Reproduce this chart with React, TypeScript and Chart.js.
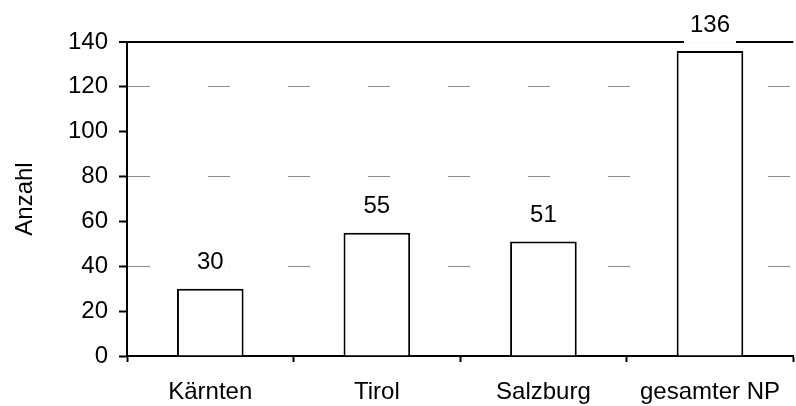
import { useEffect, useRef } from 'react'
import { Chart, ChartConfiguration, registerables } from 'chart.js'

Chart.register(...registerables)

const regions = ['Kärnten', 'Tirol', 'Salzburg', 'gesamter NP']
const counts = [30, 55, 51, 136]
const yTicksMax = 140
const yTickStep = 20
const dashedGridValues = [40, 80, 120]

const FONT = "'Liberation Sans', Arial, Helvetica, sans-serif"
const FONT_SIZE = 24

// draws the numbers above the bars on a white box (cuts the grid lines like the scan)
const valueLabels = {
    id: 'valueLabels',
    afterDatasetsDraw(chart: Chart) {
        const ctx = chart.ctx
        const meta = chart.getDatasetMeta(0)
        ctx.save()
        ctx.font = `${FONT_SIZE}px ${FONT}`
        ctx.textAlign = 'center'
        ctx.textBaseline = 'middle'
        meta.data.forEach((bar: any, i: number) => {
            const text = String(counts[i])
            const w = ctx.measureText(text).width + 12
            const y = bar.y - 26
            ctx.fillStyle = '#fff'
            ctx.fillRect(bar.x - w / 2, y - 18, w, 36)
            ctx.fillStyle = '#000'
            ctx.fillText(text, bar.x, y)
        })
        ctx.restore()
    }
}

export default function App() {
    const canvasRef = useRef<HTMLCanvasElement>(null)
    const chartRef = useRef<Chart | null>(null)

    useEffect(() => {
        document.body.style.margin = '0'
        if (!canvasRef.current) return
        const ctx = canvasRef.current.getContext('2d')
        if (!ctx) return

        const config: ChartConfiguration = {
            type: 'bar',
            data: {
                labels: regions,
                datasets: [{
                    data: counts,
                    backgroundColor: '#fff',
                    borderColor: '#000',
                    borderWidth: 2,
                    barPercentage: 0.4,
                    categoryPercentage: 1
                }]
            },
            options: {
                animation: false,
                responsive: true,
                maintainAspectRatio: false,
                layout: { padding: { top: 42, right: 0, left: 0, bottom: 0 } },
                plugins: {
                    legend: { display: false },
                    tooltip: { enabled: false }
                },
                scales: {
                    x: {
                        afterFit: (scale: any) => { scale.height = 50 },
                        grid: {
                            offset: true,
                            drawOnChartArea: false,
                            tickLength: 6,
                            tickColor: '#000',
                            tickWidth: 2,
                            color: '#000'
                        },
                        border: { color: '#000', width: 2 },
                        ticks: {
                            color: '#000',
                            padding: 16,
                            font: { family: FONT, size: FONT_SIZE }
                        }
                    },
                    y: {
                        min: 0,
                        max: yTicksMax,
                        afterFit: (scale: any) => { scale.width = 127 },
                        grid: {
                            color: (c: any) => {
                                const v = c.tick?.value
                                if (v === yTicksMax) return '#000'
                                if (dashedGridValues.includes(v)) return '#8c8c8c'
                                return 'rgba(0,0,0,0)'
                            },
                            lineWidth: (c: any) => (c.tick?.value === yTicksMax ? 2 : 1),
                            tickLength: 8,
                            tickColor: '#000',
                            tickWidth: 2
                        },
                        border: {
                            color: '#000',
                            width: 2,
                            dash: (c: any) => (c.tick && dashedGridValues.includes(c.tick.value) ? [22, 58] : [])
                        },
                        ticks: {
                            stepSize: yTickStep,
                            color: '#000',
                            padding: 11,
                            font: { family: FONT, size: FONT_SIZE }
                        },
                        title: {
                            display: true,
                            text: 'Anzahl',
                            color: '#000',
                            padding: { top: 11, bottom: 0 },
                            font: { family: FONT, size: FONT_SIZE }
                        }
                    }
                }
            },
            plugins: [valueLabels]
        }

        chartRef.current = new Chart(ctx, config)

        return () => {
            if (chartRef.current) {
                chartRef.current.destroy()
            }
        }
    }, [])

    return (
        <div style={{ width: 796, height: 406, position: 'relative' }}>
            <canvas ref={canvasRef} aria-label="Anzahl je Region" role="img"></canvas>
        </div>
    )
}
